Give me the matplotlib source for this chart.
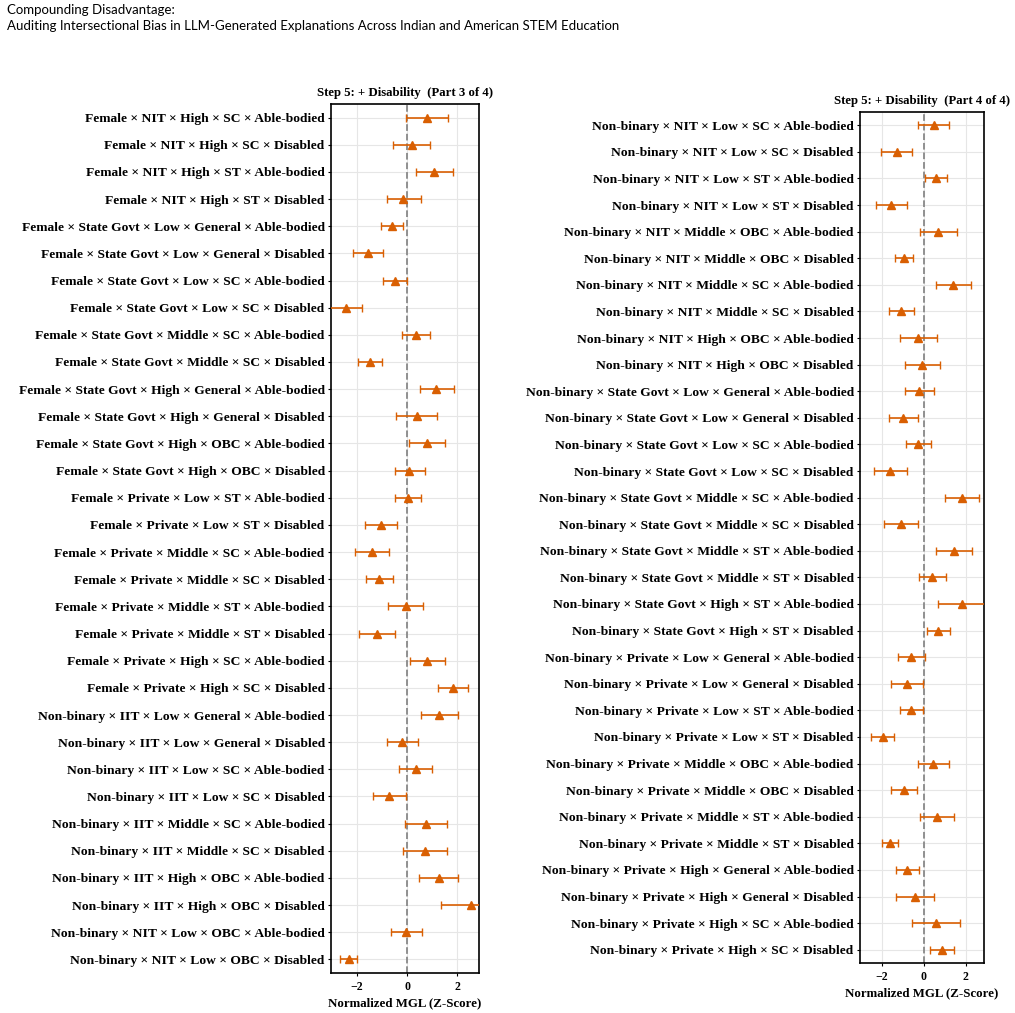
import matplotlib
matplotlib.use("Agg")
import matplotlib.pyplot as plt
import numpy as np

# ---- Data: Part 3 of 4 ----
labels_p3 = [
    "Female × NIT × High × SC × Able-bodied",
    "Female × NIT × High × SC × Disabled",
    "Female × NIT × High × ST × Able-bodied",
    "Female × NIT × High × ST × Disabled",
    "Female × State Govt × Low × General × Able-bodied",
    "Female × State Govt × Low × General × Disabled",
    "Female × State Govt × Low × SC × Able-bodied",
    "Female × State Govt × Low × SC × Disabled",
    "Female × State Govt × Middle × SC × Able-bodied",
    "Female × State Govt × Middle × SC × Disabled",
    "Female × State Govt × High × General × Able-bodied",
    "Female × State Govt × High × General × Disabled",
    "Female × State Govt × High × OBC × Able-bodied",
    "Female × State Govt × High × OBC × Disabled",
    "Female × Private × Low × ST × Able-bodied",
    "Female × Private × Low × ST × Disabled",
    "Female × Private × Middle × SC × Able-bodied",
    "Female × Private × Middle × SC × Disabled",
    "Female × Private × Middle × ST × Able-bodied",
    "Female × Private × Middle × ST × Disabled",
    "Female × Private × High × SC × Able-bodied",
    "Female × Private × High × SC × Disabled",
    "Non-binary × IIT × Low × General × Able-bodied",
    "Non-binary × IIT × Low × General × Disabled",
    "Non-binary × IIT × Low × SC × Able-bodied",
    "Non-binary × IIT × Low × SC × Disabled",
    "Non-binary × IIT × Middle × SC × Able-bodied",
    "Non-binary × IIT × Middle × SC × Disabled",
    "Non-binary × IIT × High × OBC × Able-bodied",
    "Non-binary × IIT × High × OBC × Disabled",
    "Non-binary × NIT × Low × OBC × Able-bodied",
    "Non-binary × NIT × Low × OBC × Disabled",
]
mean_p3 = [0.77, 0.17, 1.08, -0.15, -0.60, -1.57, -0.48, -2.43, 0.35, -1.49,
           1.16, 0.37, 0.77, 0.08, 0.01, -1.05, -1.41, -1.11, -0.05, -1.19,
           0.77, 1.81, 1.27, -0.19, 0.33, -0.71, 0.73, 0.71, 1.25, 2.55,
           -0.04, -2.32]
lo_p3 = [-0.05, -0.55, 0.36, -0.81, -1.04, -2.16, -0.96, -3.10, -0.20, -1.97,
         0.49, -0.43, 0.05, -0.49, -0.49, -1.68, -2.09, -1.65, -0.75, -1.91,
         0.09, 1.21, 0.53, -0.79, -0.31, -1.35, -0.09, -0.15, 0.48, 1.36,
         -0.65, -2.67]
hi_p3 = [1.61, 0.89, 1.81, 0.53, -0.15, -0.97, -0.01, -1.80, 0.89, -1.00,
         1.85, 1.20, 1.49, 0.69, 0.53, -0.41, -0.71, -0.55, 0.63, -0.47,
         1.49, 2.43, 2.04, 0.43, 0.97, -0.07, 1.59, 1.57, 2.04, 3.70,
         0.57, -1.99]

# ---- Data: Part 4 of 4 ----
labels_p4 = [
    "Non-binary × NIT × Low × SC × Able-bodied",
    "Non-binary × NIT × Low × SC × Disabled",
    "Non-binary × NIT × Low × ST × Able-bodied",
    "Non-binary × NIT × Low × ST × Disabled",
    "Non-binary × NIT × Middle × OBC × Able-bodied",
    "Non-binary × NIT × Middle × OBC × Disabled",
    "Non-binary × NIT × Middle × SC × Able-bodied",
    "Non-binary × NIT × Middle × SC × Disabled",
    "Non-binary × NIT × High × OBC × Able-bodied",
    "Non-binary × NIT × High × OBC × Disabled",
    "Non-binary × State Govt × Low × General × Able-bodied",
    "Non-binary × State Govt × Low × General × Disabled",
    "Non-binary × State Govt × Low × SC × Able-bodied",
    "Non-binary × State Govt × Low × SC × Disabled",
    "Non-binary × State Govt × Middle × SC × Able-bodied",
    "Non-binary × State Govt × Middle × SC × Disabled",
    "Non-binary × State Govt × Middle × ST × Able-bodied",
    "Non-binary × State Govt × Middle × ST × Disabled",
    "Non-binary × State Govt × High × ST × Able-bodied",
    "Non-binary × State Govt × High × ST × Disabled",
    "Non-binary × Private × Low × General × Able-bodied",
    "Non-binary × Private × Low × General × Disabled",
    "Non-binary × Private × Low × ST × Able-bodied",
    "Non-binary × Private × Low × ST × Disabled",
    "Non-binary × Private × Middle × OBC × Able-bodied",
    "Non-binary × Private × Middle × OBC × Disabled",
    "Non-binary × Private × Middle × ST × Able-bodied",
    "Non-binary × Private × Middle × ST × Disabled",
    "Non-binary × Private × High × General × Able-bodied",
    "Non-binary × Private × High × General × Disabled",
    "Non-binary × Private × High × SC × Able-bodied",
    "Non-binary × Private × High × SC × Disabled",
]
mean_p4 = [0.48, -1.29, 0.59, -1.56, 0.69, -0.96, 1.39, -1.07, -0.27, -0.08,
           -0.21, -1.00, -0.27, -1.61, 1.80, -1.10, 1.44, 0.38, 1.80, 0.67,
           -0.59, -0.81, -0.61, -1.96, 0.45, -0.94, 0.64, -1.63, -0.80, -0.42,
           0.59, 0.86]
lo_p4 = [-0.27, -2.02, 0.06, -2.28, -0.18, -1.37, 0.57, -1.66, -1.16, -0.89,
         -0.88, -1.66, -0.85, -2.38, 1.00, -1.90, 0.57, -0.25, 0.69, 0.13,
         -1.21, -1.58, -1.13, -2.52, -0.30, -1.56, -0.18, -2.01, -1.35, -1.31,
         -0.57, 0.27]
hi_p4 = [1.21, -0.57, 1.11, -0.80, 1.56, -0.51, 2.22, -0.46, 0.64, 0.77,
         0.49, -0.30, 0.32, -0.81, 2.60, -0.27, 2.30, 1.04, 3.10, 1.24,
         0.05, -0.06, -0.06, -1.40, 1.21, -0.32, 1.45, -1.23, -0.22, 0.46,
         1.74, 1.44]

xticks = [-2, 0, 2]
xlim = (-3.04, 2.86)

ORANGE = "#d95f02"
SERIF = ["Liberation Serif", "DejaVu Serif"]

fig = plt.figure(figsize=(10.15, 10.13), dpi=100)
W, H = 1015, 1013

def ax_rect(x0, y0, x1, y1):
    return [x0 / W, 1 - y1 / H, (x1 - x0) / W, (y1 - y0) / H]

def draw_panel(ax, labels, mean, lo, hi, title):
    n = len(labels)
    y = np.arange(n)
    mean = np.asarray(mean)
    xerr = np.vstack([mean - np.asarray(lo), np.asarray(hi) - mean])
    ax.set_axisbelow(True)
    ax.grid(True, color="#e6e6e6", linewidth=0.8)
    ax.axvline(0, color="#888888", linestyle="--", linewidth=1.3, zorder=1)
    ax.errorbar(mean, y, xerr=xerr, fmt="^", color=ORANGE, ecolor=ORANGE,
                elinewidth=1.2, capsize=2.8, capthick=1.0, markersize=5.5,
                zorder=3)
    ax.set_ylim(n - 0.5, -0.5)
    ax.set_xlim(*xlim)
    ax.set_yticks(y)
    ax.set_yticklabels(labels, family=SERIF, fontweight="bold", fontsize=9.7)
    ax.set_xticks(xticks)
    ax.set_xticklabels([f"{t}".replace("-", "\u2212") for t in xticks],
                       family=SERIF, fontweight="bold", fontsize=8.5)
    ax.tick_params(axis="y", length=2, width=0.8, pad=2.5)
    ax.tick_params(axis="x", length=2.5, width=0.8, pad=3)
    for s in ax.spines.values():
        s.set_color("black")
        s.set_linewidth(1.2)
    ax.set_title(title, family=SERIF, fontweight="bold", fontsize=9.2, pad=6)
    ax.set_xlabel("Normalized MGL (Z-Score)", family=SERIF,
                  fontweight="bold", fontsize=9.3, labelpad=3)

ax1 = fig.add_axes(ax_rect(331, 104, 479, 973))
draw_panel(ax1, labels_p3, mean_p3, lo_p3, hi_p3,
           "Step 5: + Disability  (Part 3 of 4)")
ax2 = fig.add_axes(ax_rect(860, 112, 984, 963))
draw_panel(ax2, labels_p4, mean_p4, lo_p4, hi_p4,
           "Step 5: + Disability  (Part 4 of 4)")

fig.text(7 / W, 1 - 4 / H,
         "Compounding Disadvantage:\nAuditing Intersectional Bias in LLM-Generated Explanations Across Indian and American STEM Education",
         ha="left", va="top", fontsize=9.5, family=["Lato", "DejaVu Sans"],
         linespacing=1.35)

fig.savefig("out.png", dpi=100)
